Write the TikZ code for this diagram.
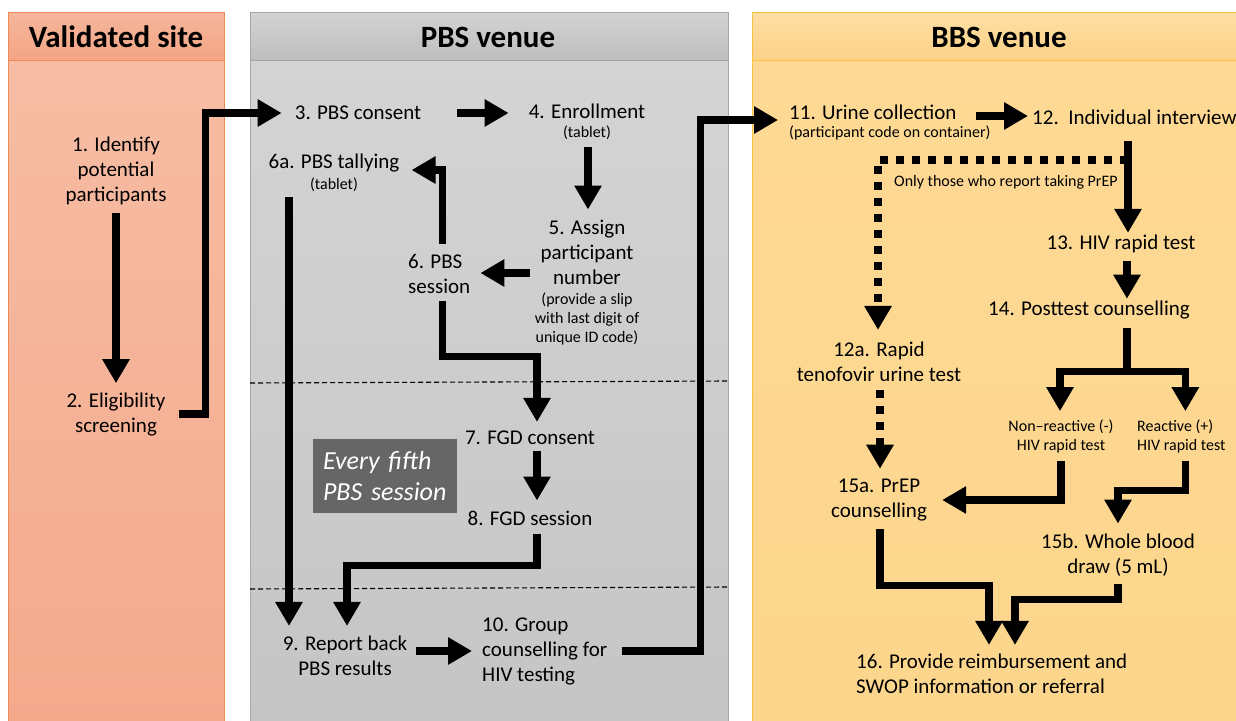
\documentclass[tikz,border=0pt]{standalone}
\usepackage{fontspec}
\setmainfont{Carlito}
\usetikzlibrary{arrows.meta,calc}
\definecolor{salH1}{HTML}{F6B69C}
\definecolor{salH2}{HTML}{F4A585}
\definecolor{salB1}{HTML}{F7BDA4}
\definecolor{salB2}{HTML}{F3A98C}
\definecolor{salL}{HTML}{EF8A55}
\definecolor{gryH1}{HTML}{D3D3D3}
\definecolor{gryH2}{HTML}{BEBEBE}
\definecolor{gryB1}{HTML}{D4D4D4}
\definecolor{gryB2}{HTML}{C5C5C5}
\definecolor{gryL}{HTML}{A6A6A6}
\definecolor{yelH1}{HTML}{FEDFA4}
\definecolor{yelH2}{HTML}{FCD187}
\definecolor{yelB1}{HTML}{FED995}
\definecolor{yelB2}{HTML}{FCD68C}
\definecolor{yelL}{HTML}{F5C242}
\definecolor{boxgray}{HTML}{666666}
\newcommand\txtA{\fontsize{21}{25}\selectfont}
\newcommand\txtB{\fontsize{16}{19}\selectfont}
\newcommand\txtH{\fontsize{31}{36}\selectfont\bfseries}
\newcommand\txtE{\fontsize{26}{31}\selectfont\itshape}
\tikzset{
  txt/.style={inner sep=0pt, font=\txtA, align=center},
  stxt/.style={inner sep=0pt, font=\txtB, align=center},
  head/.style={inner sep=0pt, font=\txtH},
  every5/.style={fill=boxgray, text=white, font=\txtE, align=left, text width=124pt, inner xsep=10pt, inner ysep=0pt, minimum height=74pt},
  arr/.style={line width=7.2pt, line join=miter, -{Triangle[width=26pt,length=24pt]}},
  bar/.style={line width=7.2pt, line join=miter},
  dotarr/.style={line width=8pt, dash pattern=on 8pt off 8pt, -{Triangle[width=26pt,length=24pt]}},
  sep/.style={line width=1.1pt, dash pattern=on 5pt off 3pt},
  panelline/.style={line width=1pt}
}
\begin{document}
\begin{tikzpicture}[x=1pt,y=-1pt]
\useasboundingbox (0,0) rectangle (1236,720);
\clip (0,0) rectangle (1236,720);
\fill[white] (0,0) rectangle (1236,720);
% Validated site panel
\shade[top color=salB1, bottom color=salB2] (8,60) rectangle (224,722);
\shade[top color=salH1, bottom color=salH2] (8,12) rectangle (224,60);
\draw[panelline, salL] (8,722) -- (8,12) -- (224,12) -- (224,722);
\draw[panelline, salL] (8,60) -- (224,60);
% PBS panel
\shade[top color=gryB1, bottom color=gryB2] (250,60) rectangle (728,722);
\shade[top color=gryH1, bottom color=gryH2] (250,12) rectangle (728,60);
\draw[panelline, gryL] (250,722) -- (250,12) -- (728,12) -- (728,722);
\draw[panelline, gryL] (250,60) -- (728,60);
% BBS panel
\shade[top color=yelB1, bottom color=yelB2] (752,60) rectangle (1240,722);
\shade[top color=yelH1, bottom color=yelH2] (752,12) rectangle (1240,60);
\draw[panelline, yelL] (752,722) -- (752,12) -- (1240,12);
\draw[panelline, yelL] (752,60) -- (1240,60);
% separators
\draw[sep] (250,383) -- (728,381);
\draw[sep] (250,589) -- (728,587);
% headers
\node[head] (hV) at (116,37) {Validated site};
\node[head] (hP) at (488,37) {PBS venue};
\node[head] (hB) at (999,37) {BBS venue};
% nodes
\node[txt] (n1) at (116,171) {1. Identify\\potential\\participants};
\node[txt] (n2) at (116,415) {2. Eligibility\\screening};
\node[txt] (n3) at (358,113) {3. PBS consent};
\node[txt] (n4) at (587,111) {4. Enrollment};
\node[stxt] (n4t) at (587,133) {(tablet)};
\node[txt] (n6a) at (334,163) {6a. PBS tallying};
\node[stxt] (n6at) at (334,185) {(tablet)};
\node[txt] (n5) at (587,252) {5. Assign\\participant\\number};
\node[stxt] (n5t) at (587,319) {(provide a slip\\with last digit of\\unique ID code)};
\node[txt, align=left, anchor=west] (n6) at (408,274) {6. PBS\\session};
\node[txt] (n7) at (530,438) {7. FGD consent};
\node[txt] (n8) at (530,518) {8. FGD session};
\node[every5] (nE) at (385,476) {Every fifth\\PBS session};
\node[txt] (n9) at (345,656) {9. Report back\\PBS results};
\node[txt, align=left, anchor=west] (n10) at (482,651) {10. Group\\counselling for\\HIV testing};
\node[txt, anchor=west] (n11) at (789,112) {11. Urine collection};
\node[stxt, anchor=west] (n11t) at (789,133) {(participant code on container)};
\node[txt, anchor=west] (n12) at (1032,117) {12.\ \ Individual interview};
\node[stxt, anchor=west] (nOnly) at (894,182) {Only those who report taking PrEP};
\node[txt] (n13) at (1121,244) {13. HIV rapid test};
\node[txt] (n14) at (1089,310) {14. Posttest counselling};
\node[txt] (n12a) at (879,362) {12a. Rapid\\tenofovir urine test};
\node[stxt] (nNR) at (1061,436) {Non–reactive (-)\\HIV rapid test};
\node[stxt, align=left, anchor=west] (nR) at (1137,436) {Reactive (+)\\HIV rapid test};
\node[txt] (n15a) at (879,500) {15a. PrEP\\counselling};
\node[txt] (n15b) at (1118,555) {15b. Whole blood\\draw (5 mL)};
\node[txt, align=left, anchor=west] (n16) at (856,674) {16. Provide reimbursement and\\SWOP information or referral};
% connectors
\draw[arr] ($(n1.south)+(0,8)$) -- ($(n2.north)+(0,-10)$);
\draw[arr] ($(n2.east)+(13,-1)$) -- ++(27,0) |- ($(n3.west)+(-13,0)$);
\draw[arr] ($(n3.east)+(36,0)$) -- ($(n4.west)+(-20,2)$);
\draw[arr] ($(n4t.south)+(1,7)$) -- ($(n5.north)+(1,-10)$);
\draw[arr] ($(n5.west)+(-10,21)$) -- ($(n6.east)+(10,-1)$);
\draw[arr] ($(n6.north)+(3,-10)$) |- ($(n6a.east)+(12,7)$);
\draw[arr] ($(n6.south)+(3,7)$) -- ++(0,56) -| ($(n7.north)+(7,-9)$);
\draw[arr] ($(n7.south)+(7,6)$) -- ($(n8.north)+(7,-10)$);
\draw[arr] ($(n8.south)+(7,8)$) -- ++(0,32) -| ($(n9.north)+(2,-10)$);
\draw[arr] ($(n6at.south)+(-45,5)$) -- ($(n9.north)+(-56,-10)$);
\draw[arr] ($(n9.east)+(9,-5)$) -- ($(n10.west)+(-10,0)$);
\draw[arr] ($(n10.east)+(15,0)$) -- ++(78,0) |- ($(n11.west)+(-11,8)$);
\draw[arr] ($(n11.east)+(19,4)$) -- ($(n12.west)+(-4,-1)$);
\draw[arr] ($(n12.west)+(96,24)$) -- ($(n13.north)+(7,-2)$);
\draw[dotarr] ($(n12.west)+(96,43)$) -| ($(n12a.north)+(-1,-12)$);
\draw[arr] ($(n13.south)+(6,8)$) -- ($(n14.north)+(38,-2)$);
\draw[arr] ($(n14.south)+(38,9)$) -- ++(0,43) -| ($(nNR.north)+(-1,-8)$);
\draw[arr] ($(n14.south)+(38,9)$) -- ++(0,43) -| ($(nR.north)+(4,-8)$);
\draw[dotarr] ($(n12a.south)+(1,8)$) -- ($(n15a.north)+(1,-10)$);
\draw[arr] ($(nNR.south)+(0,8)$) |- ($(n15a.east)+(15,0)$);
\draw[arr] ($(nR.south)+(4,8)$) -- ++(0,30) -| ($(n15b.north)+(0,-10)$);
\draw[arr] ($(n15a.south)+(1,8)$) -- ++(0,56) -| ($(n16.north west)+(133,-9)$);
\draw[arr] ($(n15b.south)+(0,8)$) -- ++(0,15) -| ($(n16.north west)+(159,-9)$);
\end{tikzpicture}
\end{document}
